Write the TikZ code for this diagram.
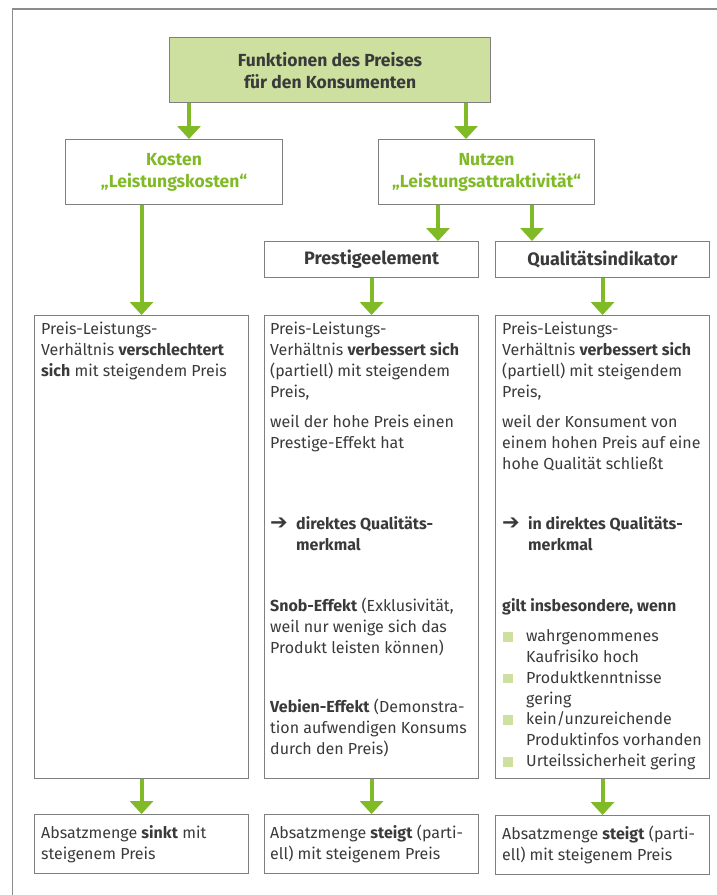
\documentclass[tikz,border=0pt]{standalone}
\usepackage{fontspec}
\setmainfont{Fira Sans}
\newfontfamily\symfont{DejaVu Sans}
\usetikzlibrary{arrows.meta}
\definecolor{arrgreen}{HTML}{80BA27}
\definecolor{hdrfill}{HTML}{CDE0A0}
\definecolor{boxline}{HTML}{7F7F7F}
\definecolor{framegray}{HTML}{8C8C8C}
\definecolor{txtgray}{HTML}{3A3A3A}
\newcommand\fst{\rule{0pt}{13.5pt}}
\newcommand\arrsym{\makebox[26pt][l]{{\symfont\bfseries\fontsize{21}{20}\selectfont\char"2794}}}
\newcommand\bulsq{\makebox[24pt][l]{\hspace{1pt}\textcolor{hdrfill}{\rule{9.5pt}{9.5pt}}}}
\newcommand\bind{\hspace*{24pt}}
\begin{document}
\begin{tikzpicture}[x=1pt,y=-1pt,
  text=txtgray,
  font=\fontsize{16}{20.8}\selectfont,
  box/.style={draw=boxline, line width=1.1pt, inner sep=0pt, anchor=north west},
  hdr/.style={box, align=center, font=\fontsize{17.5}{22}\selectfont\bfseries},
  subhdr/.style={box, align=center, font=\fontsize{18}{20}\selectfont\bfseries},
  para/.style={anchor=north west, inner sep=0pt, align=left},
  arr/.style={draw=arrgreen, line width=4pt, -{Triangle[width=23pt,length=13pt]}}]
\useasboundingbox (0,0) rectangle (716,895);
% outer frame
\draw[draw=framegray, line width=1.3pt] (12.7,896) -- (12.7,9) -- (717,9);
% header boxes
\node[hdr, fill=hdrfill, minimum width=321pt, minimum height=65pt] (top) at (169,37) {Funktionen des Preises\\für den Konsumenten};
\node[hdr, text=arrgreen, minimum width=217pt, minimum height=65pt] (kosten) at (65,139) {Kosten\\„Leistungskosten“};
\node[hdr, text=arrgreen, minimum width=216pt, minimum height=65pt] (nutzen) at (378,139) {Nutzen\\„Leistungsattraktivität“};
\node[subhdr, minimum width=214pt, minimum height=36pt] (prestige) at (264,241) {Prestigeelement};
\node[subhdr, minimum width=214pt, minimum height=36pt] (quali) at (495,241) {Qualitätsindikator};
% big boxes
\node[box, minimum width=214pt, minimum height=463pt] (b1) at (34,315) {};
\node[box, minimum width=214pt, minimum height=463pt] (b2) at (264,315) {};
\node[box, minimum width=214pt, minimum height=463pt] (b3) at (495,315) {};
% bottom boxes
\node[box, minimum width=214pt, minimum height=59pt] (c1) at (34,814) {};
\node[box, minimum width=214pt, minimum height=59pt] (c2) at (264,814) {};
\node[box, minimum width=214pt, minimum height=59pt] (c3) at (495,815) {};
% arrows
\coordinate (a1) at ([xshift=20pt]top.south west);
\coordinate (a2) at ([xshift=297pt]top.south west);
\coordinate (a3) at ([xshift=60pt]nutzen.south west);
\coordinate (a4) at ([xshift=154pt]nutzen.south west);
\draw[arr] (a1) -- (a1 |- kosten.north);
\draw[arr] (a2) -- (a2 |- nutzen.north);
\draw[arr] (kosten.south -| b1.north) -- (b1.north);
\draw[arr] (a3) -- (a3 |- prestige.north);
\draw[arr] (a4) -- (a4 |- quali.north);
\draw[arr] (prestige.south) -- (b2.north);
\draw[arr] (quali.south) -- (b3.north);
\draw[arr] (b1.south) -- (c1.north);
\draw[arr] (b2.south) -- (c2.north);
\draw[arr] (b3.south) -- (c3.north);
% left column text
\node[para] (p11) at (41,321) {\fst Preis-Leistungs-\\Verhältnis \textbf{verschlechtert}\\\textbf{sich} mit steigendem Preis};
% middle column text
\node[para] (p21) at (270,321) {\fst Preis-Leistungs-\\Verhältnis \textbf{verbessert sich}\\(partiell) mit steigendem\\Preis,};
\node[para] (p22) at (270,414) {\fst weil der hohe Preis einen\\Prestige-Effekt hat};
\node[para] (p23) at (270,516) {\fst\arrsym\textbf{direktes Qualitäts-}\\\hspace*{26pt}\textbf{merkmal}};
\node[para] (p24) at (270,598) {\fst\textbf{Snob-Effekt} (Exklusivität,\\weil nur wenige sich das\\Produkt leisten können)};
\node[para] (p25) at (270,699) {\fst\textbf{Vebien-Effekt} (Demonstra-\\tion aufwendigen Konsums\\durch den Preis)};
% right column text
\node[para] (p31) at (502,321) {\fst Preis-Leistungs-\\Verhältnis \textbf{verbessert sich}\\(partiell) mit steigendem\\Preis,};
\node[para] (p32) at (502,414) {\fst weil der Konsument von\\einem hohen Preis auf eine\\hohe Qualität schließt};
\node[para] (p33) at (502,516) {\fst\arrsym\textbf{in direktes Qualitäts-}\\\hspace*{26pt}\textbf{merkmal}};
\node[para] (p34) at (502,598) {\fst\textbf{gilt insbesondere, wenn}};
\node[para] (p35) at (502,628) {\fst\bulsq wahrgenommenes\\\bind Kaufrisiko hoch\\\bulsq Produktkenntnisse\\\bind gering\\\bulsq kein/unzureichende\\\bind Produktinfos vorhanden\\\bulsq Urteilssicherheit gering};
% bottom text
\node[para] (q1) at (41,825) {\fst Absatzmenge \textbf{sinkt} mit\\steigenem Preis};
\node[para] (q2) at (270,825) {\fst Absatzmenge \textbf{steigt} (parti-\\ell) mit steigenem Preis};
\node[para] (q3) at (502,826) {\fst Absatzmenge \textbf{steigt} (parti-\\ell) mit steigenem Preis};
\end{tikzpicture}
\end{document}
